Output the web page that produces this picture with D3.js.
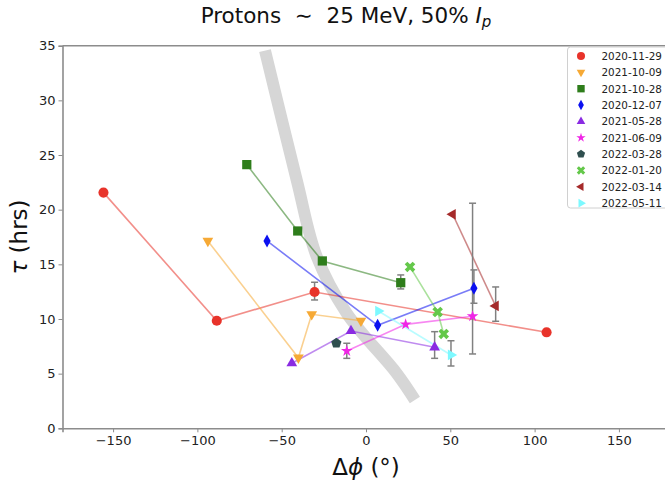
<!DOCTYPE html>
<html>
<head>
<meta charset="utf-8">
<script src="https://cdn.jsdelivr.net/npm/d3@7"></script>
<style>
  body { margin: 0; background: #fff; }
  svg { display: block; font-family: "DejaVu Sans", sans-serif; }
</style>
</head>
<body>
<div id="chart"></div>
<script>
// event dates (legend order)
const dates = [
    "2020-11-29", "2021-10-09", "2021-10-28", "2020-12-07", "2021-05-28",
    "2021-06-09", "2022-03-28", "2022-01-20", "2022-03-14", "2022-05-11"
];

// delta phi (deg) for each point of each event
const dphi = [
    [-155.7, -88.5, -30.5, 107.1],
    [-93.8, -40.1, -32.2, -3.0],
    [-70.7, -40.5, -25.9, 20.6],
    [-58.7, 6.9, 64.0],
    [-44.0, -8.9, 40.7],
    [-11.4, 23.5, 63.2],
    [-17.6],
    [26.1, 42.5, 46.1],
    [51.4, 76.9],
    [7.3, 50.4]
];

// tau (hrs)
const tau = [
    [21.56, 9.84, 12.47, 8.78],
    [17.14, 6.46, 10.43, 9.84],
    [24.12, 18.05, 15.31, 13.32],
    [17.14, 9.42, 12.81],
    [5.95, 8.90, 7.41],
    [7.07, 9.51, 10.25],
    [7.78],
    [14.76, 10.64, 8.63],
    [19.58, 11.19],
    [10.73, 6.71]
];

// error bars: lower / upper tau, null when none
const errLo = [
    [null, null, 11.74, null],
    [null, null, null, null],
    [null, null, null, 12.75],
    [null, null, 11.44],
    [null, null, 6.40],
    [6.40, null, 6.80],
    [null],
    [null, null, null],
    [null, 9.79],
    [null, 5.70]
];
const errHi = [
    [null, null, 13.36, null],
    [null, null, null, null],
    [null, null, null, 14.03],
    [null, null, 14.49],
    [null, null, 8.84],
    [7.78, null, 20.59],
    [null],
    [null, null, null],
    [null, 12.93],
    [null, 8.01]
];

// grey reference band
const bandPhi = [-59.9, -41.1, -29.2, -11.4, 18.2, 29.0];
const bandTau = [34.55, 22.72, 15.70, 10.52, 5.03, 2.59];

const xTicks = [-150, -100, -50, 0, 50, 100, 150];
const yTicks = [0, 5, 10, 15, 20, 25, 30, 35];

const colors = ["#e8332a", "#f6a935", "#2e7d1b", "#0b10f0", "#8a2be2",
    "#f025e6", "#2f4f4f", "#64c84a", "#a52a2a", "#7df9ff"];
const shapes = ["circle", "tridown", "square", "thindiamond", "triup",
    "star", "pentagon", "xfill", "trileft", "triright"];

const width = 665;
const height = 488;

const svg = d3.select("#chart")
    .append("svg")
    .attr("width", width)
    .attr("height", height);

const x = d3.scaleLinear().domain([-180, 180]).range([62.5, 669.5]);
const y = d3.scaleLinear().domain([0, 35]).range([428.3, 45.7]);

function polygon(n, r, rot) {
    const pts = d3.range(n).map(i => {
        const a = rot + i * 2 * Math.PI / n;
        return [r * Math.sin(a), -r * Math.cos(a)];
    });
    return "M" + pts.map(p => p.join(",")).join("L") + "Z";
}

function markerPath(shape) {
    switch (shape) {
        case "circle": return d3.symbol(d3.symbolCircle, 80)();
        case "square": return d3.symbol(d3.symbolSquare, 85)();
        case "tridown": return polygon(3, 6.2, Math.PI);
        case "triup": return polygon(3, 6.2, 0);
        case "trileft": return polygon(3, 6.2, -Math.PI / 2);
        case "triright": return polygon(3, 6.2, Math.PI / 2);
        case "pentagon": return polygon(5, 5.4, 0);
        case "star": return d3.symbol(d3.symbolStar, 42)();
        case "thindiamond": return "M0,-6.5L3.6,0L0,6.5L-3.6,0Z";
        case "xfill": return d3.symbol(d3.symbolCross, 70)();
    }
}

// band
const band = bandPhi.map((p, i) => [p, bandTau[i]]);
svg.append("path")
    .attr("d", d3.line().x(d => x(d[0])).y(d => y(d[1])).curve(d3.curveCatmullRom)(band))
    .attr("fill", "none")
    .attr("stroke", "#d6d6d6")
    .attr("stroke-width", 12);

// connecting lines
dates.forEach((date, i) => {
    if (dphi[i].length < 2) return;
    const pts = dphi[i].map((p, j) => [p, tau[i][j]]);
    svg.append("path")
        .attr("d", d3.line().x(d => x(d[0])).y(d => y(d[1]))(pts))
        .attr("fill", "none")
        .attr("stroke", colors[i])
        .attr("stroke-opacity", 0.55)
        .attr("stroke-width", 1.6);
});

// error bars
dates.forEach((date, i) => {
    dphi[i].forEach((p, j) => {
        if (errLo[i][j] === null) return;
        const g = svg.append("g").attr("stroke", "#808080").attr("stroke-width", 1.5);
        g.append("line").attr("x1", x(p)).attr("x2", x(p))
            .attr("y1", y(errLo[i][j])).attr("y2", y(errHi[i][j]));
        [errLo[i][j], errHi[i][j]].forEach(v => {
            g.append("line").attr("x1", x(p) - 3.5).attr("x2", x(p) + 3.5)
                .attr("y1", y(v)).attr("y2", y(v));
        });
    });
});

// markers
dates.forEach((date, i) => {
    svg.append("g").selectAll("path")
        .data(dphi[i].map((p, j) => [p, tau[i][j]]))
        .join("path")
        .attr("d", markerPath(shapes[i]))
        .attr("transform", d => `translate(${x(d[0])},${y(d[1])})` + (shapes[i] === "xfill" ? " rotate(45)" : ""))
        .attr("fill", colors[i]);
});

// axes
const axisColor = "#8c8c8c";
const xAxis = svg.append("g")
    .attr("transform", `translate(0,${y(0)})`)
    .call(d3.axisBottom(x).tickValues(xTicks).tickSize(4).tickPadding(3)
        .tickFormat(d => d < 0 ? "\u2212" + Math.abs(d) : d));
const yAxis = svg.append("g")
    .attr("transform", `translate(${x(-180)},0)`)
    .call(d3.axisLeft(y).tickValues(yTicks).tickSize(4).tickPadding(3));
[xAxis, yAxis].forEach(a => {
    a.select(".domain").attr("stroke", axisColor).attr("stroke-width", 1.6);
    a.selectAll(".tick line").attr("stroke", axisColor).attr("stroke-width", 1);
    a.selectAll("text").attr("fill", "#222").style("font-size", "13px")
        .style("font-family", "DejaVu Sans");
});
// top spine
svg.append("line")
    .attr("x1", x(-180)).attr("x2", width)
    .attr("y1", y(35)).attr("y2", y(35))
    .attr("stroke", axisColor).attr("stroke-width", 1.6);

// legend
const lg = svg.append("g").attr("transform", "translate(567.5,47)");
lg.append("rect")
    .attr("width", 110).attr("height", 161).attr("rx", 3)
    .attr("fill", "#fff").attr("fill-opacity", 0.85)
    .attr("stroke", "#d0d0d0");
dates.forEach((date, i) => {
    const row = lg.append("g").attr("transform", `translate(0,${9 + i * 16.35})`);
    row.append("path")
        .attr("d", markerPath(shapes[i]))
        .attr("transform", "translate(13.5,0) scale(0.8)" + (shapes[i] === "xfill" ? " rotate(45)" : ""))
        .attr("fill", colors[i]);
    row.append("text")
        .attr("x", 34).attr("y", 4)
        .style("font-size", "10.4px")
        .attr("fill", "#222")
        .text(date);
});

// title
const title = svg.append("text")
    .attr("x", 346).attr("y", 23)
    .attr("text-anchor", "middle")
    .style("font-size", "21.5px")
    .attr("fill", "#111");
title.append("tspan").text("Protons \u00A0\u223C\u00A0 25 MeV, 50% ");
title.append("tspan").style("font-style", "italic").text("I");
title.append("tspan").style("font-style", "italic").style("font-size", "15px")
    .attr("dy", 4).text("p");

// axis labels
svg.append("text")
    .attr("x", (x(-180) + x(180)) / 2).attr("y", 475)
    .attr("text-anchor", "middle")
    .style("font-size", "23px")
    .attr("fill", "#111")
    .html('\u0394<tspan font-style="italic">\u03D5</tspan> (\u00B0)');

svg.append("text")
    .attr("transform", "translate(27,237) rotate(-90)")
    .attr("text-anchor", "middle")
    .style("font-size", "23px")
    .attr("fill", "#111")
    .html('<tspan font-style="italic">\u03C4</tspan> (hrs)');
</script>
</body>
</html>
